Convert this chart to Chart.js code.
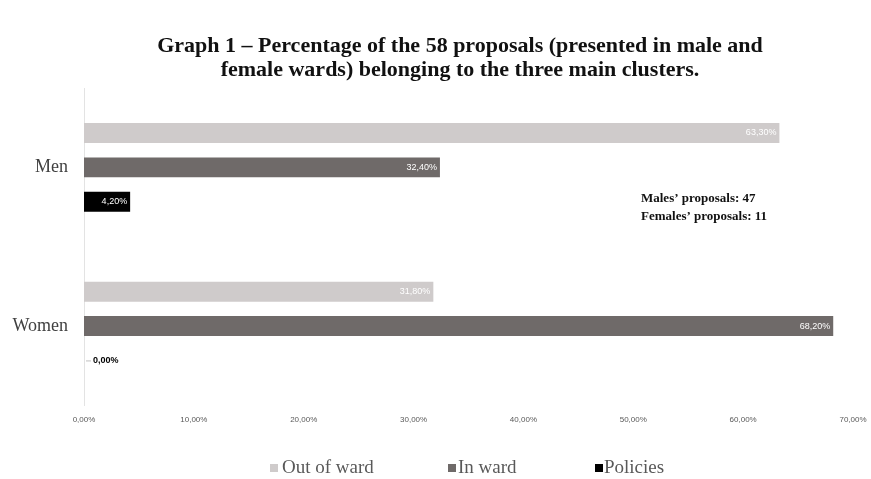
<!DOCTYPE html>
<html>
<head>
<meta charset="utf-8">
<script src="https://cdn.jsdelivr.net/npm/chart.js@4/dist/chart.umd.min.js"></script>
<style>
  html, body { margin: 0; padding: 0; background: #ffffff; }
  #wrap { width: 871px; height: 479px; }
</style>
</head>
<body>
<div id="wrap"><canvas id="c" width="871" height="479"></canvas></div>
<script>
const categories = ["Men", "Women"];
const seriesNames = ["Out of ward", "In ward", "Policies"];
const outOfWard = [63.3, 31.8];
const inWard = [32.4, 68.2];
const policies = [4.2, 0.0];
const xTickValues = [0, 10, 20, 30, 40, 50, 60, 70];
const notes = ["Males\u2019 proposals: 47", "Females\u2019 proposals: 11"];
const titleLines = ["Graph 1 \u2013 Percentage of the 58 proposals (presented in male and", "female wards) belonging to the three main clusters."];

const colors = ["#cfcbcb", "#6f6a69", "#000000"];
const fmt = v => v.toFixed(2).replace('.', ',') + '%';

const labelPlugin = {
  id: 'barLabels',
  afterDatasetsDraw(chart) {
    const ctx = chart.ctx;
    ctx.save();
    chart.data.datasets.forEach((ds, di) => {
      const meta = chart.getDatasetMeta(di);
      meta.data.forEach((bar, i) => {
        const v = ds.data[i];
        const txt = fmt(v);
        ctx.font = '9px "Liberation Sans Narrow", "Liberation Sans", Arial, sans-serif';
        ctx.textBaseline = 'middle';
        if (v > 0) {
          ctx.fillStyle = '#ffffff';
          ctx.textAlign = 'right';
          ctx.fillText(txt, bar.x - 3, bar.y);
        } else {
          ctx.fillStyle = '#000000';
          ctx.textAlign = 'left';
          ctx.font = 'bold 9px "Liberation Sans Narrow", "Liberation Sans", Arial, sans-serif';
          ctx.strokeStyle = '#bfbfbf';
          ctx.lineWidth = 1;
          ctx.beginPath();
          ctx.moveTo(bar.x + 2, bar.y + 0.5);
          ctx.lineTo(bar.x + 7, bar.y + 0.5);
          ctx.stroke();
          ctx.fillText(txt, bar.x + 9, bar.y);
        }
      });
    });
    // title
    ctx.fillStyle = '#111111';
    ctx.textAlign = 'center';
    ctx.textBaseline = 'middle';
    ctx.font = 'bold 22px "Liberation Serif", "Times New Roman", serif';
    ctx.fillText(titleLines[0], 460, 46);
    ctx.fillText(titleLines[1], 460, 70);
    // notes
    ctx.textAlign = 'left';
    ctx.font = 'bold 13px "Liberation Serif", "Times New Roman", serif';
    const xs = chart.scales.x, ys = chart.scales.y;
    const nx = xs.getPixelForValue(50.7);
    ctx.fillText(notes[0], nx, ys.getPixelForValue(0) + 31);
    ctx.fillText(notes[1], nx, ys.getPixelForValue(0) + 49);
    // legend
    ctx.font = '19px "Liberation Serif", "Times New Roman", serif';
    const ly = 468;
    const boxX = [270, 448, 595];
    const textX = [282, 458, 604];
    seriesNames.forEach((n, k) => {
      ctx.fillStyle = colors[k];
      ctx.fillRect(boxX[k], ly - 4, 8, 8);
      ctx.fillStyle = '#595959';
      ctx.fillText(n, textX[k], ly);
    });
    ctx.restore();
  }
};

new Chart(document.getElementById('c'), {
  type: 'bar',
  data: {
    labels: categories,
    datasets: [
      { label: seriesNames[0], data: outOfWard, backgroundColor: colors[0] },
      { label: seriesNames[1], data: inWard, backgroundColor: colors[1] },
      { label: seriesNames[2], data: policies, backgroundColor: colors[2] }
    ]
  },
  options: {
    indexAxis: 'y',
    responsive: false,
    animation: false,
    layout: { padding: { left: 0, right: 18, top: 88, bottom: 44 } },
    datasets: { bar: { categoryPercentage: 0.65, barPercentage: 0.58 } },
    plugins: {
      legend: { display: false },
      tooltip: { enabled: false },
      title: { display: false }
    },
    scales: {
      x: {
        min: 0, max: 70,
        afterBuildTicks: s => { s.ticks = xTickValues.map(v => ({ value: v })); },
        afterFit: s => { s.paddingLeft = 0; s.paddingRight = 0; },
        grid: { display: false, drawTicks: false },
        border: { display: false },
        ticks: {
          padding: 10,
          color: '#595959',
          font: { family: '"Liberation Sans", Arial, sans-serif', size: 8 },
          callback: v => fmt(v)
        }
      },
      y: {
        afterFit: s => { s.width = 84; },
        grid: { display: false, drawTicks: false },
        border: { display: true, color: '#e3e3e3', width: 1 },
        ticks: {
          padding: 16,
          color: '#404040',
          font: { family: '"Liberation Serif", "Times New Roman", serif', size: 18 }
        }
      }
    }
  },
  plugins: [labelPlugin]
});
</script>
</body>
</html>
